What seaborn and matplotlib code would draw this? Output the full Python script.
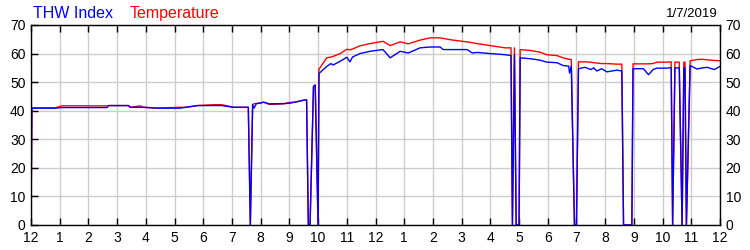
import matplotlib
matplotlib.use("Agg")
import matplotlib.pyplot as plt
import seaborn as sns
import pandas as pd

# ---- data (hours since midnight) ----
hours = [0.00, 0.03, 0.85, 1.07, 2.65, 2.70, 3.40, 3.45, 3.80, 3.92, 4.40, 5.20, 5.40,
         5.80, 6.35, 6.65, 7.05, 7.57, 7.64, 7.72, 7.77, 7.85, 8.00, 8.10, 8.30, 8.80,
         9.00, 9.20, 9.50, 9.60, 9.66, 9.72, 9.84, 9.90, 10.00, 10.03, 10.30, 10.45,
         10.52, 10.77, 11.00, 11.11, 11.20, 11.46, 11.81, 12.26, 12.51, 12.86, 13.14,
         13.55, 13.90, 14.25, 14.36, 14.70, 15.19, 15.37, 15.54, 15.99, 16.52, 16.72,
         16.77, 16.84, 16.90, 17.00, 17.04, 17.39, 17.73, 17.97, 18.32, 18.54, 18.73,
         18.76, 18.82, 18.93, 19.00, 19.07, 19.30, 19.50, 19.60, 19.71, 19.88, 20.06,
         20.41, 20.58, 20.64, 20.93, 20.97, 21.33, 21.51, 21.67, 21.80, 22.15, 22.30,
         22.35, 22.43, 22.58, 22.68, 22.74, 22.78, 22.83, 22.96, 23.20, 23.40, 23.55,
         23.80, 24.00]

thw_index = [0, 40.9, 40.9, 41.1, 41.1, 41.8, 41.8, 41.2, 41.2, 41.2, 40.9, 40.9, 41.2,
             41.8, 41.8, 41.8, 41.2, 41.2, 0, 42.1, 40.9, 42.5, 42.7, 43.0, 42.4, 42.5,
             42.6, 43.0, 43.7, 43.8, 0, 0, 48.5, 49.0, 0, 53.0, 55.5, 56.5,
             56.0, 57.3, 58.7, 57.1, 58.8, 60.0, 60.8, 61.4, 58.5, 60.8, 60.2,
             62.0, 62.3, 62.3, 61.4, 61.4, 61.4, 60.2, 60.4, 60.0, 59.6, 59.3,
             0, 59.5, 0, 0, 58.5, 58.2, 57.7, 57.0, 56.8, 55.8, 55.6,
             53.2, 55.6, 0, 0, 54.7, 55.2, 54.4, 55.0, 53.9, 54.7, 53.6,
             54.2, 53.9, 0, 0, 54.7, 54.7, 52.6, 54.4, 54.9, 54.9, 55.1,
             0, 55.0, 55.0, 0, 55.0, 55.0, 0, 55.8, 54.6, 55.0, 55.2,
             54.4, 55.5]

temperature = [0, 41.0, 41.0, 41.7, 41.7, 41.8, 41.8, 41.2, 41.7, 41.2, 40.9, 41.2, 41.2,
               41.8, 42.1, 42.1, 41.2, 41.2, 0, 42.1, 42.5, 42.5, 42.7, 43.0, 42.2, 42.4,
               42.9, 43.0, 43.7, 43.8, 0, 0, 48.5, 49.0, 0, 54.5, 58.5, 58.8,
               59.0, 60.0, 61.5, 61.3, 61.6, 62.7, 63.5, 64.3, 62.8, 64.1, 63.4,
               64.7, 65.5, 65.5, 65.3, 64.7, 64.1, 63.8, 63.5, 62.8, 62.0, 62.0,
               0, 62.0, 0, 0, 61.4, 61.1, 60.5, 59.6, 59.3, 58.5, 58.0,
               58.0, 57.9, 0, 0, 57.1, 57.1, 57.0, 56.8, 56.7, 56.5, 56.5,
               56.3, 56.3, 0, 0, 56.4, 56.4, 56.4, 56.5, 57.0, 57.0, 57.1,
               0, 57.0, 57.0, 0, 57.0, 57.0, 0, 57.5, 57.9, 58.0, 57.8,
               57.6, 57.5]

tick_hours = list(range(0, 25))
tick_labels = ["12", "1", "2", "3", "4", "5", "6", "7", "8", "9", "10", "11",
               "12", "1", "2", "3", "4", "5", "6", "7", "8", "9", "10", "11", "12"]
y_ticks = [0, 10, 20, 30, 40, 50, 60, 70]

df = pd.DataFrame({"hour": hours, "THW Index": thw_index, "Temperature": temperature})

sns.set_style("white")
plt.rcParams["font.family"] = ["Liberation Sans", "DejaVu Sans"]

fig = plt.figure(figsize=(7.5, 2.5), dpi=100)
ax = fig.add_axes([31 / 750, 25 / 250, (720 - 31) / 750, (225 - 25) / 250])

sns.lineplot(data=df, x="hour", y="Temperature", ax=ax, color="#ff0000",
             linewidth=1.0, estimator=None, sort=False)
sns.lineplot(data=df, x="hour", y="THW Index", ax=ax, color="#0000ff",
             linewidth=1.0, estimator=None, sort=False)

ax.set_xlim(0, 24)
ax.set_ylim(0, 70)
ax.set_xticks(tick_hours)
ax.set_xticklabels(tick_labels)
ax.set_yticks(y_ticks)
ax.set_xlabel("")
ax.set_ylabel("")
ax.grid(True, color="#cccccc", linewidth=1.0)
ax.set_axisbelow(True)
for s in ax.spines.values():
    s.set_color("black")
    s.set_linewidth(1.0)
ax.tick_params(axis="both", direction="in", length=5, width=1, color="black",
               labelsize=10, labelcolor="black", pad=4)
ax.tick_params(axis="x", top=True, bottom=True)
ax.tick_params(axis="y", left=True, right=False, labelright=True, labelleft=True)

fig.text(33 / 750, 1 - 18 / 250, "THW Index", color="#0000ff", fontsize=11.5,
         ha="left", va="baseline")
fig.text(130 / 750, 1 - 18 / 250, "Temperature", color="#ff0000", fontsize=11.5,
         ha="left", va="baseline")
fig.text(718 / 750, 1 - 17 / 250, "1/7/2019", color="black", fontsize=9.5,
         ha="right", va="baseline")

fig.savefig("out.png", dpi=100)
